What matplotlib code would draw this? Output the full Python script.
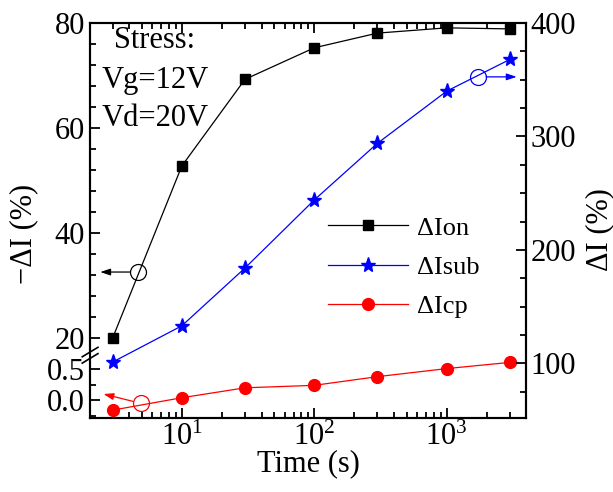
import numpy as np
import matplotlib
matplotlib.use('Agg')
import matplotlib.pyplot as plt
from matplotlib.ticker import FixedLocator, LogLocator, NullFormatter

plt.rcParams['font.family'] = ['Liberation Serif', 'DejaVu Serif']
plt.rcParams['mathtext.fontset'] = 'custom'
plt.rcParams['mathtext.rm'] = 'Liberation Serif'
plt.rcParams['mathtext.it'] = 'Liberation Serif:italic'

# data
time = [3, 10, 30, 100, 300, 1000, 3000]
d_ion = [20.0, 52.8, 69.3, 75.3, 78.1, 79.1, 78.9]      # -dI (%), left upper
d_icp = [-0.16, 0.04, 0.20, 0.24, 0.38, 0.51, 0.61]     # -dI (%), left lower
d_isub = [101, 133, 184, 244, 294, 340, 368]            # dI (%), right

left_major = [0.0, 0.5, 20, 40, 60, 80]
left_minor = [-0.25, 0.25, 24, 28, 32, 36, 44, 48, 52, 56, 64, 68, 72, 76]

# broken left axis: piecewise linear mapping (lower 0..0.7, upper 17..80)
yv = [-10, 0.71, 16.95, 200]
pv = [18 - 620, 18 + 62 * 0.71, 80 - 5.25 * 3.05, 80 + 5.25 * 180]
fwd = lambda y: np.interp(y, yv, pv)
inv = lambda p: np.interp(p, pv, yv)

fig = plt.figure(figsize=(6.13, 4.92), dpi=100)
fig.subplots_adjust(left=0.147, right=0.858, top=0.953, bottom=0.150)
ax = fig.add_subplot(111)
ax2 = ax.twinx()

ax.set_xscale('log')
ax.set_yscale('function', functions=(fwd, inv))
ax.set_xlim(2.03, 3966)
ax.set_ylim(-0.29, 80)
ax2.set_ylim(51.5, 400)

l1, = ax.plot(time, d_ion, 'k-', marker='s', ms=6.5, lw=0.9, label='ΔIon')
l3, = ax.plot(time, d_icp, '-', color='red', marker='o', ms=8.5, lw=0.9, label='ΔIcp')
l2, = ax2.plot(time, d_isub, '-', color='blue', marker='*', ms=11, lw=0.9, label='ΔIsub')

# circles + arrows pointing to the axis
arrow = '-|>,head_length=0.6,head_width=0.2'
ax.plot([4.67], [32.6], 'o', mfc='none', mec='black', ms=11.5, mew=0.9)
ax.annotate('', xy=(2.42, 32.6), xytext=(4.67, 32.6),
            arrowprops=dict(arrowstyle=arrow, color='black', lw=0.9, shrinkA=6, shrinkB=0))
ax.plot([4.9], [-0.05], 'o', mfc='none', mec='red', ms=11.5, mew=0.9)
ax.annotate('', xy=(2.56, 0.1), xytext=(4.9, -0.05),
            arrowprops=dict(arrowstyle=arrow, color='red', lw=0.9, shrinkA=6, shrinkB=0))
ax2.plot([1714], [352.6], 'o', mfc='none', mec='blue', ms=11.5, mew=0.9)
ax2.annotate('', xy=(3375, 352.6), xytext=(1714, 352.6),
             arrowprops=dict(arrowstyle=arrow, color='blue', lw=0.9, shrinkA=6, shrinkB=0))

# ticks
ax.yaxis.set_major_locator(FixedLocator(left_major))
ax.yaxis.set_minor_locator(FixedLocator(left_minor))
ax.set_yticklabels(['0.0', '0.5', '20', '40', '60', '80'])
ax.xaxis.set_major_locator(LogLocator(base=10))
ax.xaxis.set_minor_locator(LogLocator(base=10, subs=np.arange(2, 10)))
ax.xaxis.set_minor_formatter(NullFormatter())
ax2.set_yticks([100, 200, 300, 400])
ax2.set_yticks(np.arange(75, 400, 25), minor=True)

ax.tick_params(which='both', direction='in', top=True, right=False, labelsize=22, width=1.3)
ax.tick_params(which='major', length=7)
ax.tick_params(which='minor', length=4.5)
ax2.tick_params(which='both', direction='in', labelsize=22, width=1.3)
ax2.tick_params(which='major', length=7)
ax2.tick_params(which='minor', length=4.5)
for a in (ax, ax2):
    for s in a.spines.values():
        s.set_linewidth(1.5)

ax.set_xlabel('Time (s)', fontsize=22, labelpad=-2)
ax.set_ylabel('−ΔI (%)', fontsize=22)
ax.yaxis.set_label_coords(-0.119, 0.466)
ax2.set_ylabel('ΔI (%)', fontsize=22)
ax2.yaxis.set_label_coords(1.135, 0.478)

# axis break marks
yb = (fwd(0.71) + fwd(16.95)) / 2
yb_ax = (yb - fwd(-0.29)) / (fwd(80) - fwd(-0.29))
ax.plot([-0.005, 0.005], [yb_ax - 0.003, yb_ax + 0.003], color='white', lw=3,
        transform=ax.transAxes, clip_on=False, zorder=5)
for dy in (-0.008, 0.008):
    ax.plot([-0.018, 0.018], [yb_ax + dy - 0.012, yb_ax + dy + 0.012], color='black',
            lw=1.2, transform=ax.transAxes, clip_on=False, zorder=6)

ax.text(0.149, 0.957, 'Stress:', transform=ax.transAxes, ha='center', va='center', fontsize=22)
ax.text(0.149, 0.856, 'Vg=12V', transform=ax.transAxes, ha='center', va='center', fontsize=22)
ax.text(0.149, 0.759, 'Vd=20V', transform=ax.transAxes, ha='center', va='center', fontsize=22)

ax2.legend([l1, l2, l3], ['ΔIon', 'ΔIsub', 'ΔIcp'], loc='center', bbox_to_anchor=(0.72, 0.382),
           frameon=False, fontsize=19, handlelength=3, handletextpad=0.35,
           labelspacing=0.6, numpoints=1)

fig.savefig('out.png', dpi=100)
